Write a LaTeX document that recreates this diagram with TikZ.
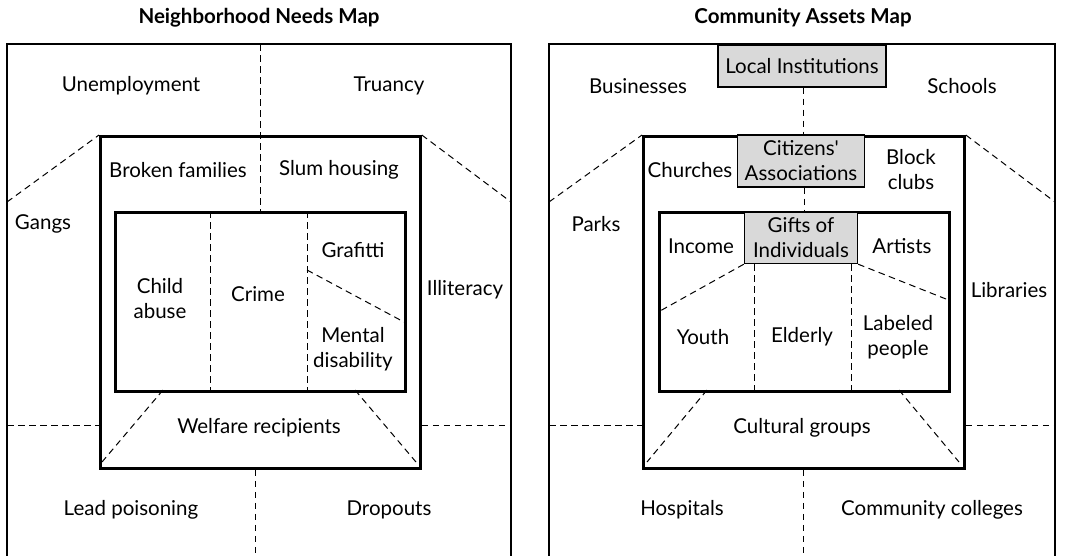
\documentclass[tikz,border=0pt]{standalone}
\usepackage{fontspec}
\setmainfont{Lato}
\begin{document}
\begin{tikzpicture}[x=1pt,y=-1pt,
  frame/.style={draw, line width=2.8pt},
  part/.style={draw, line width=1pt, dash pattern=on 6.5pt off 4.5pt},
  region/.style={draw, line width=2.8pt, minimum width=#1, anchor=north west, inner sep=0pt},
  lbl/.style={font=\fontsize{20.5}{25}\selectfont, align=center, inner sep=0pt},
  ttl/.style={font=\bfseries\fontsize{20.5}{24}\selectfont, inner sep=0pt},
  asset/.style={draw, fill=gray!30, line width=1.4pt, font=\fontsize{20.5}{25}\selectfont,
    align=center, inner sep=0pt}]
\useasboundingbox (0,0) rectangle (1065,555);
\clip (0,0) rectangle (1065,555);

% ---------------- Neighborhood needs ----------------
\node[ttl] (ntitle) at (259,18) {Neighborhood Needs Map};
\coordinate (nA) at (7,570);
\coordinate (nB) at (7,44);
\coordinate (nC) at (511,44);
\coordinate (nD) at (511,570);
\draw[frame] (nA) -- (nB) -- (nC) -- (nD);
\node[region=320pt, minimum height=332pt] (nmid) at (99,135) {};
\node[region=290pt, minimum height=179pt] (nin) at (114,211) {};

% partitions of the outer ring
\draw[part] (nB -| nin.north) -- (nin.north);
\coordinate (nL1) at (7,202);
\coordinate (nR1) at (511,202);
\draw[part] (nL1) -- (nmid.north west);
\draw[part] (nmid.north east) -- (nR1);
\coordinate (nL2) at (7,425);
\coordinate (nR2) at (511,425);
\draw[part] (nL2) -- (nL2 -| nmid.west);
\draw[part] (nR2 -| nmid.east) -- (nR2);
\coordinate (nbot) at (255,555);
\draw[part] (nbot |- nmid.south) -- (nbot);

% partitions of the inner boxes
\coordinate (ni1) at (210,390);
\coordinate (ni2) at (307,390);
\draw[part] (ni1 |- nin.north) -- (ni1);
\draw[part] (ni2 |- nin.north) -- (ni2);
\coordinate (ng1) at (307,270);
\coordinate (ng2) at (404,322);
\draw[part] (ng1) -- (ng2);
\coordinate (nt1) at (163,390);
\coordinate (nt2) at (102,462);
\coordinate (nt3) at (355,390);
\coordinate (nt4) at (416,462);
\draw[part] (nt1) -- (nt2);
\draw[part] (nt3) -- (nt4);

\node[lbl] (n1) at (131,86) {Unemployment};
\node[lbl] (n2) at (389,86) {Truancy};
\node[lbl] (n3) at (178,170) {Broken families};
\node[lbl] (n4) at (339,170) {Slum housing};
\node[lbl] (n5) at (43,224) {Gangs};
\node[lbl] (n6) at (353,250) {Grafitti};
\node[lbl] (n7) at (160,299) {Child\\abuse};
\node[lbl] (n8) at (258,294) {Crime};
\node[lbl] (n9) at (465,290) {Illiteracy};
\node[lbl] (n10) at (353,349) {Mental\\disability};
\node[lbl] (n11) at (259,428) {Welfare recipients};
\node[lbl] (n12) at (131,510) {Lead poisoning};
\node[lbl] (n13) at (389,510) {Dropouts};

% ---------------- Community assets ----------------
\node[ttl] (atitle) at (803,18) {Community Assets Map};
\coordinate (aA) at (549,570);
\coordinate (aB) at (549,44);
\coordinate (aC) at (1055,44);
\coordinate (aD) at (1055,570);
\draw[frame] (aA) -- (aB) -- (aC) -- (aD);
\node[region=321pt, minimum height=332pt] (amid) at (642,135) {};
\node[region=290pt, minimum height=179pt] (ain) at (658,211) {};

\node[asset, minimum width=168pt, minimum height=42pt] (inst) at (802,66) {Local Institutions};
\node[asset, minimum width=127pt, minimum height=52pt] (assoc) at (801,161) {Citizens\textquotesingle\\Associations};
\node[asset, minimum width=113pt, minimum height=51pt] (gifts) at (801,238) {Gifts of\\Individuals};

\draw[part] (inst.south -| amid.north) -- (amid.north);
\draw[part] (assoc.south -| ain.north) -- (ain.north);
\coordinate (aL1) at (549,202);
\coordinate (aR1) at (1055,202);
\draw[part] (aL1) -- (amid.north west);
\draw[part] (amid.north east) -- (aR1);
\coordinate (aL2) at (549,425);
\coordinate (aR2) at (1055,425);
\draw[part] (aL2) -- (aL2 -| amid.west);
\draw[part] (aR2 -| amid.east) -- (aR2);
\coordinate (abot) at (803,555);
\draw[part] (abot |- amid.south) -- (abot);

\coordinate (ai1) at (754,390);
\coordinate (ai2) at (851,390);
\draw[part] (ai1 |- gifts.south) -- (ai1);
\draw[part] (ai2 |- gifts.south) -- (ai2);
\coordinate (ag1) at (660,311);
\coordinate (ag2) at (946,299);
\draw[part] (gifts.south west) -- (ag1);
\draw[part] (gifts.south east) -- (ag2);
\coordinate (at1) at (707,390);
\coordinate (at2) at (647,462);
\coordinate (at3) at (899,390);
\coordinate (at4) at (959,462);
\draw[part] (at1) -- (at2);
\draw[part] (at3) -- (at4);

\node[lbl] (a1) at (638,86) {Businesses};
\node[lbl] (a2) at (962,86) {Schools};
\node[lbl] (a3) at (690,170) {Churches};
\node[lbl] (a4) at (911,170) {Block\\clubs};
\node[lbl] (a5) at (596,224) {Parks};
\node[lbl] (a6) at (701,246) {Income};
\node[lbl] (a7) at (902,246) {Artists};
\node[lbl] (a8) at (1009,290) {Libraries};
\node[lbl] (a9) at (703,337) {Youth};
\node[lbl] (a10) at (802,337) {Elderly};
\node[lbl] (a11) at (898,337) {Labeled\\people};
\node[lbl] (a12) at (802,428) {Cultural groups};
\node[lbl] (a13) at (682,510) {Hospitals};
\node[lbl] (a14) at (932,510) {Community colleges};
\end{tikzpicture}
\end{document}
